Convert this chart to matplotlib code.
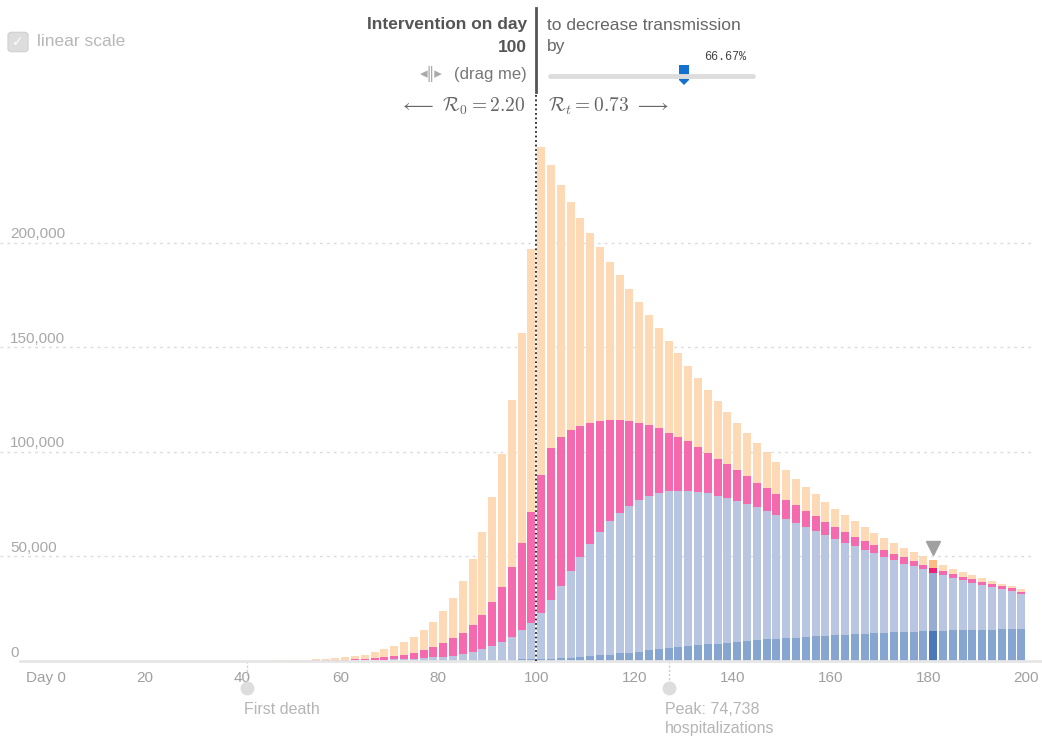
import numpy as np
import matplotlib.pyplot as plt
from matplotlib.patches import Polygon, FancyBboxPatch
from matplotlib.lines import Line2D
from matplotlib.transforms import offset_copy

plt.rcParams['font.family'] = ['Liberation Sans', 'DejaVu Sans']
plt.rcParams['mathtext.fontset'] = 'cm'

W, H = 1042, 737

# ---- data (people) ----
days = list(range(41, 201, 2))

# top of each stacked layer
total = [130, 170, 220, 290, 370, 480, 620, 800, 1050, 1400, 1800, 2400, 3100, 4100,
         5500, 7100, 9100, 11500, 14700, 18600, 23800, 30300, 38300, 48700, 61600, 78300,
         98900, 124700, 157000, 196900,
         245800, 236900, 227700, 219400, 211600, 204400, 197700, 190900, 184600, 178000,
         171700, 165400, 159200, 153100, 147100, 141100, 135500, 129600, 124200, 118800,
         113800, 108900, 104100, 99700, 95200, 91100, 87100, 83300, 79600, 76100,
         72800, 69600, 66700, 63900, 61200, 58600, 56200, 54000, 51900, 50000,
         48100, 46000, 44200, 42600, 41000, 39600, 38300, 37000, 35800, 34500]
infectious_top = [45, 60, 78, 100, 130, 170, 220, 285, 370, 490, 630, 840, 1080, 1430,
                  1900, 2400, 3100, 4000, 5200, 6800, 8400, 10800, 13400, 17300, 22200, 28000,
                  35400, 44800, 56500, 71000,
                  89000, 101900, 107300, 110300, 112100, 113600, 114600, 115200, 115200, 114900,
                  113900, 112800, 111200, 109200, 107100, 105000, 102200, 99300, 96600, 94000,
                  91100, 88400, 85300, 82600, 79800, 77100, 74500, 71600, 69100, 66600,
                  64000, 61600, 59400, 57300, 55300, 53200, 51300, 49500, 47600, 46000,
                  44400, 43000, 41400, 40200, 39000, 37800, 36700, 35800, 34700, 33200]
hospital_top = [14, 18, 24, 31, 40, 52, 67, 87, 115, 150, 195, 260, 335, 450,
                600, 800, 1000, 1150, 1500, 1800, 2100, 2600, 3400, 4400, 5700, 7100,
                8900, 11300, 14600, 18100,
                23100, 29000, 35800, 42900, 49500, 56100, 61600, 66700, 70900, 74300,
                76900, 79000, 80300, 81100, 81500, 81400, 81000, 80100, 79100, 77800,
                76400, 75000, 73400, 71600, 69900, 68000, 66100, 64200, 62200, 60300,
                58400, 56500, 54800, 53200, 51600, 49700, 48100, 46600, 45200, 43900,
                42300, 41000, 39800, 38600, 37500, 36200, 35300, 34300, 33400, 32100]
fatalities = [0, 0, 0, 1, 1, 2, 3, 4, 5, 7, 9, 12, 15, 20,
              25, 35, 45, 60, 80, 100, 130, 170, 220, 280, 350, 430,
              520, 620, 740, 880,
              850, 1100, 1300, 1600, 1900, 2400, 2800, 3100, 3600, 4000,
              4500, 5200, 5700, 6300, 6800, 7100, 7500, 8000, 8300, 8800,
              9200, 9600, 9900, 10300, 10700, 10800, 11100, 11500, 11800, 11900,
              12300, 12400, 12700, 13100, 13300, 13400, 13700, 13900, 14100, 14200,
              14400, 14500, 14700, 14900, 14900, 15000, 15000, 15200, 15200, 15300]

y_ticks = [0, 50000, 100000, 150000, 200000]
x_ticks = [0, 20, 40, 60, 80, 100, 120, 140, 160, 180, 200]
x_labels = ['Day 0'] + [str(t) for t in x_ticks[1:]]

intervention_day = 100
highlight_day = 181
first_death_day = 41
peak_day = 127

# segments of the stack
total = np.array(total)
inf_top = np.array(infectious_top)
hosp_top = np.array(hospital_top)
dead = np.array(fatalities)
hosp = hosp_top - dead
inf = inf_top - hosp_top
exposed = total - inf_top

c_dead, c_hosp, c_inf, c_exp = '#87a5d1', '#b9c6e1', '#f56aae', '#fed9b5'
h_dead, h_hosp, h_inf, h_exp = '#4b78b6', '#98acd2', '#ee1f78', '#fdba84'


def fx(x):
    return x / W


def fy(y):
    return 1 - y / H


fig = plt.figure(figsize=(W / 100, H / 100), dpi=100)

# axes: day 0 at px 46.3, 4.9 px/day; zero at py 661, 104.6 px per 50k
ax = fig.add_axes([0, fy(661), 1, (661 - 95) / H])
ax.set_xlim(-46.3 / 4.9, (W - 46.3) / 4.9)
ax.set_ylim(0, (661 - 95) / 104.6 * 50000)
for s in ax.spines.values():
    s.set_visible(False)
ax.set_yticks([])

x = np.array(days)
colors = [[h if d == highlight_day else c for d in days] for c, h in
          [(c_dead, h_dead), (c_hosp, h_hosp), (c_inf, h_inf), (c_exp, h_exp)]]
bw = 1.65
ax.bar(x, dead, width=bw, color=colors[0], zorder=3)
ax.bar(x, hosp, width=bw, bottom=dead, color=colors[1], zorder=3)
ax.bar(x, inf, width=bw, bottom=hosp_top, color=colors[2], zorder=3)
ax.bar(x, exposed, width=bw, bottom=inf_top, color=colors[3], zorder=3)

# gridlines + y labels sitting above them
for v in y_ticks[1:]:
    ax.plot([ax.get_xlim()[0], 201.5], [v, v], color='#dcdcdc', lw=1,
            ls=(0, (2, 3)), zorder=1)
ylab_tr = offset_copy(ax.get_yaxis_transform(), fig=fig, x=0, y=6, units='points')
for v in y_ticks:
    ax.text(10 / W, v, f'{v:,}', transform=ylab_tr, ha='left', va='center',
            fontsize=11, color='#a8a8a8')

ax.plot([-5.4, ax.get_xlim()[1]], [0, 0], color='#e6e6e6', lw=2, zorder=4, clip_on=False)

ax.set_xticks(x_ticks, labels=x_labels)
ax.tick_params(axis='x', length=0, pad=7.5, labelsize=11, labelcolor='#a0a0a0')

# intervention line
ax.axvline(intervention_day, color='#222222', lw=1.3, ls=(0, (1, 1.5)), zorder=5)
fig.add_artist(Line2D([fx(536.3)] * 2, [fy(8), fy(92)], color='#555555', lw=2))

# highlight marker
hi = days.index(highlight_day)
ax.plot(highlight_day, total[hi], marker='v', ms=10, color='#a0a0a0',
        transform=offset_copy(ax.transData, fig=fig, x=0, y=9, units='points'),
        zorder=6, clip_on=False)

# annotations below axis
xtr = ax.get_xaxis_transform()
for d in (first_death_day, peak_day):
    ax.plot([d, d], [0, -27 / 566], transform=xtr, color='#cccccc',
            lw=1, ls=(0, (1.5, 1.5)), clip_on=False)
    ax.plot(d, -27 / 566, marker='o', ms=9, color='#dddddd', transform=xtr, clip_on=False)
ax.text(first_death_day - 0.7, -48 / 566, 'First death', transform=xtr,
        ha='left', va='center', fontsize=11.5, color='#b5b5b5')
ax.text(peak_day - 0.7, -48 / 566, 'Peak: 74,738', transform=xtr,
        ha='left', va='center', fontsize=11.5, color='#b5b5b5')
ax.text(peak_day - 0.7, -68 / 566, 'hospitalizations', transform=xtr,
        ha='left', va='center', fontsize=11.5, color='#b5b5b5')

# header texts
fig.text(fx(527), fy(25), 'Intervention on day', ha='right', va='center',
         fontsize=12.5, fontweight='bold', color='#555555')
fig.text(fx(527), fy(48), str(intervention_day), ha='right', va='center',
         fontsize=12.5, fontweight='bold', color='#555555')
fig.text(fx(527), fy(75), '(drag me)', ha='right', va='center', fontsize=12, color='#777777')
fig.text(fx(431), fy(74), '◂‖▸', ha='center', va='center', fontsize=11, color='#aaaaaa',
         family=['DejaVu Sans'])
fig.text(fx(525), fy(106), r'$\longleftarrow\ \mathcal{R}_0 = 2.20$', ha='right',
         va='center', fontsize=14, color='#666666')

fig.text(fx(547), fy(25), 'to decrease transmission', ha='left', va='center',
         fontsize=12.5, color='#666666')
fig.text(fx(547), fy(47), 'by', ha='left', va='center', fontsize=12.5, color='#666666')
fig.text(fx(725), fy(57), '66.67%', ha='center', va='center', fontsize=8.5,
         color='#444444', family=['Liberation Mono', 'DejaVu Sans Mono'])
fig.add_artist(Line2D([fx(550), fx(753)], [fy(76), fy(76)], color='#dddddd', lw=3.5,
                      solid_capstyle='round'))
fig.add_artist(Polygon([(fx(679), fy(65)), (fx(689), fy(65)), (fx(689), fy(80)),
                        (fx(684), fy(85)), (fx(679), fy(80))], closed=True,
                       transform=fig.transFigure, facecolor='#1570d0', edgecolor='none'))
fig.text(fx(548), fy(106), r'$\mathcal{R}_t = 0.73\ \longrightarrow$', ha='left',
         va='center', fontsize=14, color='#666666')

# checkbox
fig.add_artist(FancyBboxPatch((fx(9), fy(51)), fx(18), 18 / H,
                              boxstyle='round,pad=0.001,rounding_size=0.004',
                              transform=fig.transFigure, facecolor='#dddddd',
                              edgecolor='#d0d0d0', lw=0.8))
fig.text(fx(18), fy(42), '✓', ha='center', va='center', fontsize=10, color='white',
         family=['DejaVu Sans'])
fig.text(fx(37), fy(42), 'linear scale', ha='left', va='center', fontsize=12.5,
         color='#b8b8b8')

fig.savefig('out.png', dpi=100)
